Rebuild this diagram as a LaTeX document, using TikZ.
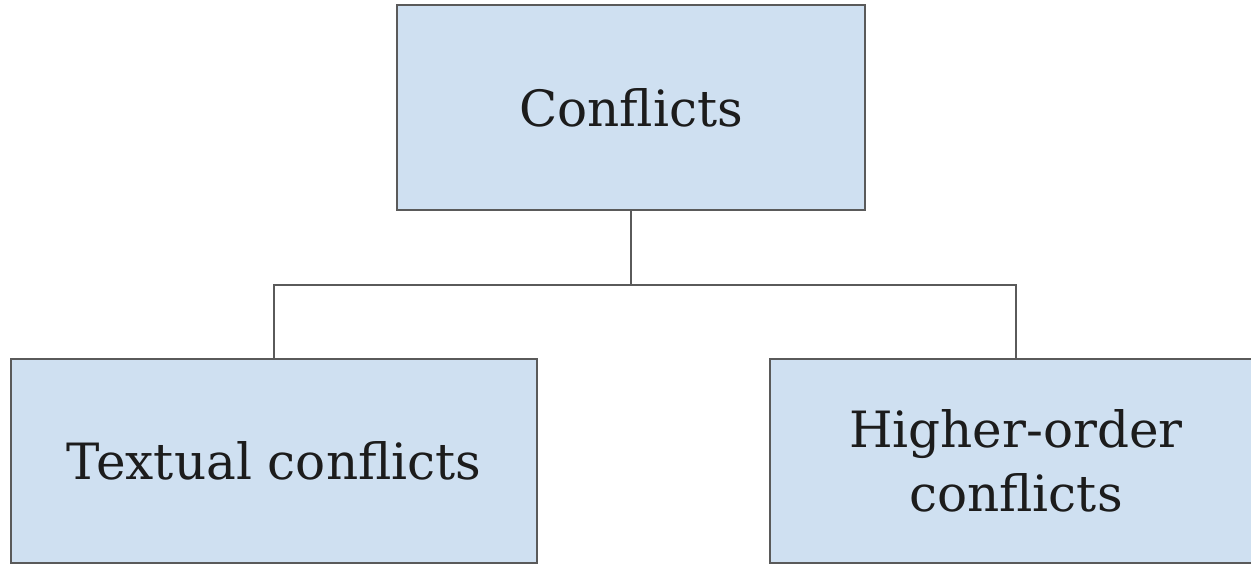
\documentclass[tikz,border=0pt]{standalone}
\usepackage{fontspec}
\setmainfont{DejaVu Serif}
\definecolor{boxfill}{HTML}{CFE0F1}
\definecolor{boxline}{HTML}{5A5A5A}
\definecolor{txt}{HTML}{1C1C1C}
\begin{document}
\begin{tikzpicture}[x=1pt,y=-1pt,
  box/.style={draw=boxline,line width=1.8pt,fill=boxfill,rectangle,inner sep=0pt,
    text=txt,align=center,font=\fontsize{50}{64}\selectfont},
  link/.style={draw=boxline,line width=1.6pt}]
\useasboundingbox (0,0) rectangle (1251,564);
\begin{scope}
\clip (0,0) rectangle (1251,564);
\node[box,minimum width=468pt,minimum height=205pt] (top) at (631,107.5) {Conflicts};
\node[box,minimum width=526pt,minimum height=204pt] (left) at (274,461) {Textual conflicts};
\node[box,minimum width=492pt,minimum height=204pt] (right) at (1016,461) {Higher-order\\conflicts};
\coordinate (mid) at (631,285);
\draw[link] (top.south) -- (mid) -| (left.north);
\draw[link] (mid) -| (right.north);
\end{scope}
\end{tikzpicture}
\end{document}
